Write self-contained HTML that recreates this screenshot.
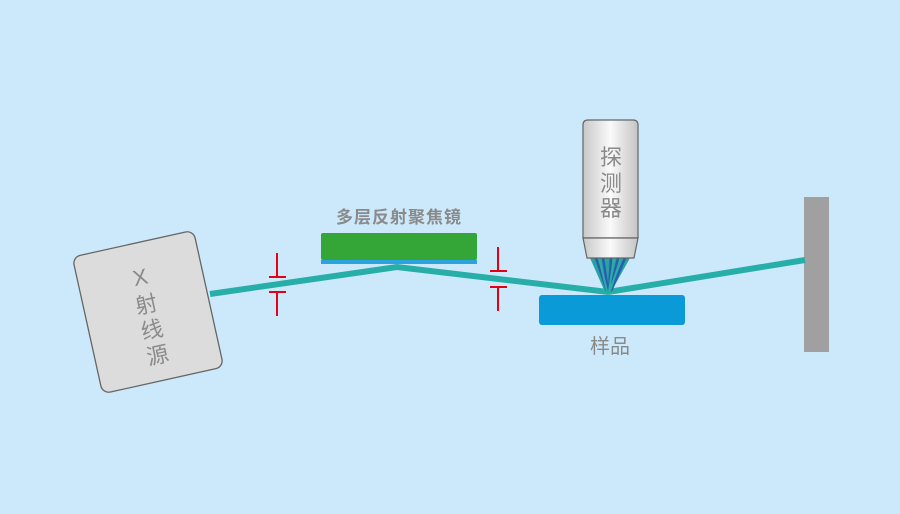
<!DOCTYPE html>
<html><head><meta charset="utf-8"><style>
html,body{margin:0;padding:0;background:#cbe9fa;}
svg{display:block;}
text{font-family:"Liberation Sans","Noto Sans CJK SC",sans-serif;fill:#8a8a8a;}
</style></head><body>
<svg width="900" height="514" viewBox="0 0 900 514" xmlns="http://www.w3.org/2000/svg">
<defs>
<linearGradient id="g" x1="0" x2="1" y1="0" y2="0">
<stop offset="0" stop-color="#c8c8c8"/><stop offset="0.5" stop-color="#fafafa"/><stop offset="1" stop-color="#c4c4c4"/>
</linearGradient>
</defs>
<rect width="900" height="514" fill="#cbe9fa"/>
<!-- wall -->
<rect x="804" y="197" width="25" height="155" fill="#a0a0a0"/>
<!-- beam -->
<polyline points="210,294 397,267 608,292 805,260" fill="none" stroke="#28aea8" stroke-width="6" stroke-linejoin="miter"/>
<!-- X-ray source -->
<g transform="translate(148,312) rotate(-12.5)">
<rect x="-62" y="-70" width="124" height="140" rx="8" fill="#dcdcdc" stroke="#666" stroke-width="1.3"/>
<text x="0" y="-28" font-size="22" text-anchor="middle">X</text>
<text x="0" y="0" font-size="22" text-anchor="middle">射</text>
<text x="0" y="26" font-size="22" text-anchor="middle">线</text>
<text x="0" y="52" font-size="22" text-anchor="middle">源</text>
</g>
<!-- red markers -->
<g stroke="#e60012" stroke-width="2" fill="none">
<path d="M277 253V277M269 277H286M269 292H286M277 292V316"/>
<path d="M498 247V271M490 271H507M490 287H507M498 287V311"/>
</g>
<!-- mirror -->
<text x="399" y="223" font-size="17" font-weight="bold" text-anchor="middle" letter-spacing="1">多层反射聚焦镜</text>
<rect x="321" y="233" width="156" height="27" rx="2" fill="#34a537"/>
<rect x="321" y="260" width="156" height="4" fill="#2aa3df"/>
<!-- detector cone -->
<g>
<polygon points="590,258 630,258 611,292 605,292" fill="#2aa3a0"/>
<path d="M596 258L607 291M603 258L608 291M611 258L609 291M618 258L610 291M625 258L611 291" stroke="#2a5db0" stroke-width="2.5"/>
<path d="M599 258L607 291M614 258L609 291M621 258L610 291" stroke="#27b0a8" stroke-width="2"/>
</g>
<!-- detector -->
<path d="M583 238V125Q583 120 588 120H633Q638 120 638 125V238Z" fill="url(#g)" stroke="#666" stroke-width="1.2"/>
<path d="M583 238H638L634 258H587Z" fill="url(#g)" stroke="#666" stroke-width="1.2"/>
<text x="611" y="165" font-size="22" text-anchor="middle">探</text>
<text x="611" y="191" font-size="22" text-anchor="middle">测</text>
<text x="611" y="216" font-size="22" text-anchor="middle">器</text>
<!-- sample -->
<rect x="539" y="295" width="146" height="30" rx="3" fill="#0a9ad8"/>
<text x="610" y="353" font-size="20" text-anchor="middle">样品</text>
</svg>
</body></html>
